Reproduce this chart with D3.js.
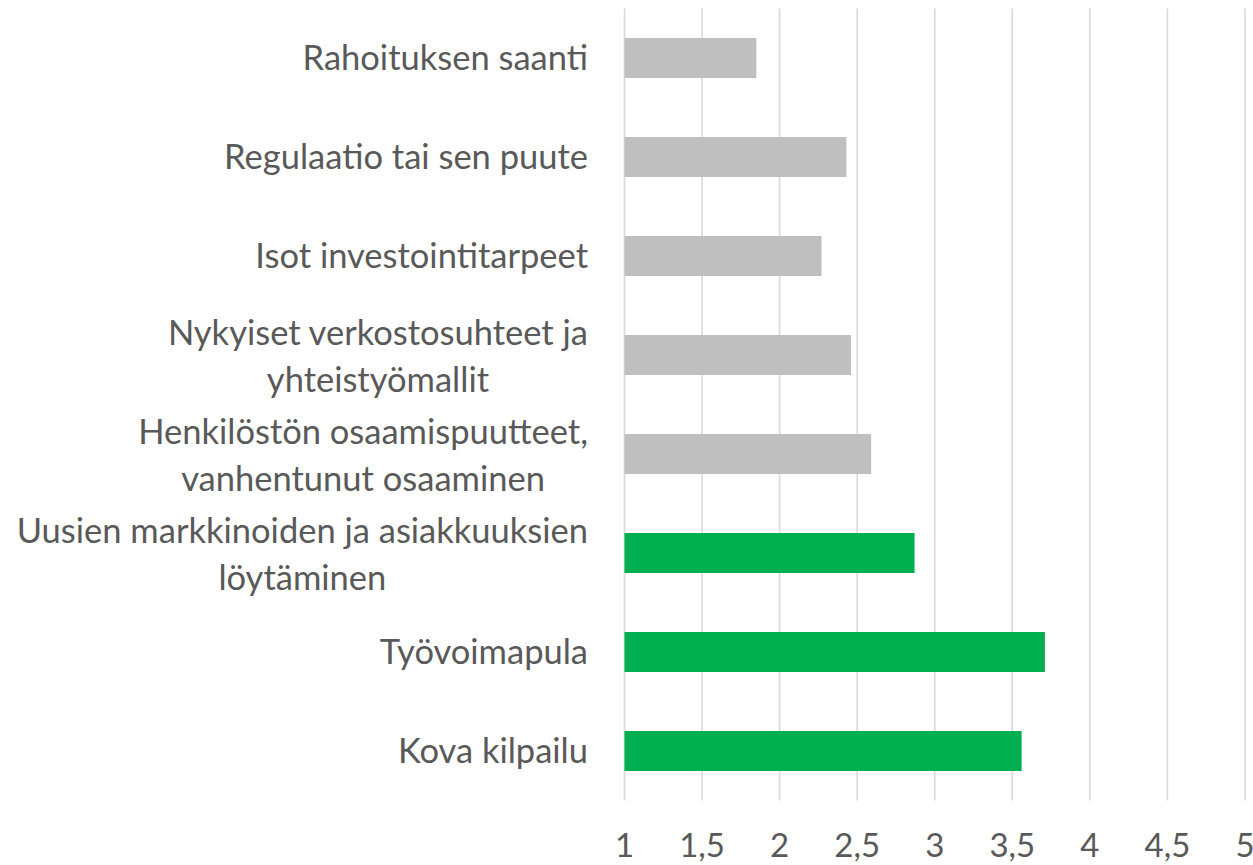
<!DOCTYPE html>
<html><head><meta charset="utf-8">
<script src="https://cdn.jsdelivr.net/npm/d3@7"></script>
<style>body{margin:0;background:#fff}svg{display:block}</style>
</head><body>
<svg id="c" width="1253" height="865"></svg>
<script>
const categories = [
  ["Rahoituksen saanti"],
  ["Regulaatio tai sen puute"],
  ["Isot investointitarpeet"],
  ["Nykyiset verkostosuhteet ja", "yhteistyömallit"],
  ["Henkilöstön osaamispuutteet,", "vanhentunut osaaminen"],
  ["Uusien markkinoiden ja asiakkuuksien", "löytäminen"],
  ["Työvoimapula"],
  ["Kova kilpailu"]
];
const values = [1.85, 2.43, 2.27, 2.46, 2.59, 2.87, 3.71, 3.56];
const highlighted = [false, false, false, false, false, true, true, true];
const tickValues = [1, 1.5, 2, 2.5, 3, 3.5, 4, 4.5, 5];
const tickLabels = ["1", "1,5", "2", "2,5", "3", "3,5", "4", "4,5", "5"];

(function () {
const svg = d3.select("#c");
const font = "Lato, 'Open Sans', sans-serif";
const textColor = "#595959";
const pLeft = 624.5, pRight = 1245, pTop = 8.5, pBottom = 800.5;

const x = d3.scaleLinear().domain([1, 5]).range([pLeft, pRight]);
const y = d3.scaleBand().domain(d3.range(categories.length)).range([pTop, pBottom]).paddingInner(0.596).paddingOuter(0.298);

svg.append("g").selectAll("line").data(tickValues).join("line")
  .attr("x1", d => x(d)).attr("x2", d => x(d))
  .attr("y1", pTop).attr("y2", pBottom)
  .attr("stroke", "#d9d9d9").attr("stroke-width", 1.6);

svg.append("g").selectAll("rect").data(values).join("rect")
  .attr("x", x(1))
  .attr("y", (d, i) => y(i))
  .attr("width", d => x(d) - x(1))
  .attr("height", y.bandwidth())
  .attr("fill", (d, i) => highlighted[i] ? "#00b050" : "#bfbfbf");

svg.append("g").selectAll("text").data(tickValues).join("text")
  .attr("x", d => x(d)).attr("y", 857)
  .attr("text-anchor", "middle")
  .attr("font-family", font).attr("font-size", 33)
  .attr("fill", textColor)
  .text((d, i) => tickLabels[i]);

const labelRight = 588;
const lineGap = 47;
const g = svg.append("g").attr("font-family", font).attr("font-size", 34.5).attr("fill", textColor);
categories.forEach((lines, i) => {
  const cy = y(i) + y.bandwidth() / 2;
  if (lines.length === 1) {
    g.append("text").attr("x", labelRight).attr("y", cy).attr("dy", "0.35em")
      .attr("text-anchor", "end").text(lines[0]);
  } else {
    const texts = lines.map((t, k) => g.append("text")
      .attr("y", cy + (k - (lines.length - 1) / 2) * lineGap + 1).attr("dy", "0.35em")
      .attr("text-anchor", "middle").text(t));
    const maxW = d3.max(texts, t => t.node().getComputedTextLength());
    texts.forEach(t => t.attr("x", labelRight - maxW / 2));
  }
});
})();
</script>
</body></html>
